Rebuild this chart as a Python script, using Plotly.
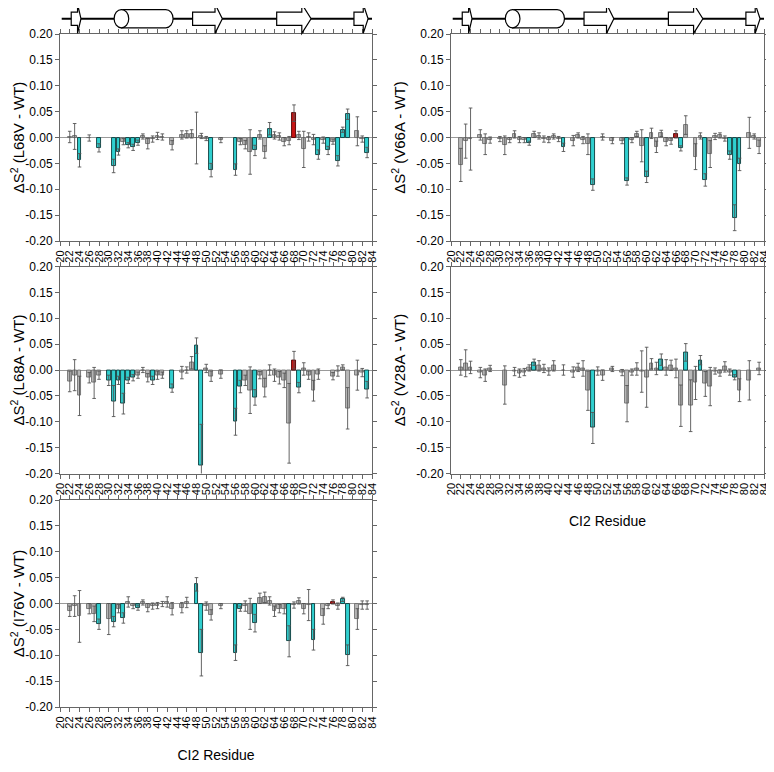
import plotly.graph_objects as go

# ---------------- data ----------------
res_L68V = [22,23,24,26,28,31,32,33,34,35,36,37,38,39,40,41,43,45,46,47,48,49,50,51,53,56,57,58,59,60,61,62,63,64,65,66,67,68,69,70,71,72,73,74,75,76,77,78,79,81,82,83]
ds2_L68V = [0.001,0.002,-0.044,-0.001,-0.020,-0.055,-0.028,-0.008,-0.015,-0.019,-0.010,0.002,-0.012,-0.003,0.003,0.001,-0.015,0.005,0.006,0.007,-0.001,0.003,-0.002,-0.063,-0.005,-0.062,-0.008,-0.014,-0.028,-0.025,0.005,-0.028,0.017,0.004,0.002,-0.008,-0.006,0.047,0.004,-0.023,0.001,-0.004,-0.033,-0.005,-0.025,-0.008,-0.045,0.015,0.045,0.012,-0.003,-0.029]
err_L68V = [0.011,0.025,0.013,0.006,0.008,0.013,0.006,0.006,0.005,0.006,0.005,0.005,0.010,0.006,0.007,0.006,0.009,0.008,0.007,0.008,0.050,0.005,0.004,0.013,0.005,0.011,0.006,0.008,0.043,0.010,0.008,0.012,0.012,0.007,0.007,0.008,0.008,0.016,0.008,0.035,0.008,0.010,0.009,0.006,0.008,0.005,0.010,0.005,0.010,0.028,0.006,0.010]
sig_L68V = [24,28,31,32,34,35,36,51,56,60,63,73,75,77,78,79,83]

res_V66A = [22,23,24,26,27,28,30,31,32,33,34,35,36,37,38,39,40,41,42,43,45,46,47,48,49,51,53,55,56,57,58,59,60,61,62,63,64,65,66,67,68,70,71,72,73,74,75,76,77,78,79,81,82,83]
ds2_V66A = [-0.053,-0.007,-0.003,0.005,-0.013,-0.005,-0.003,-0.015,-0.005,0.006,-0.004,-0.005,-0.011,0.006,0.003,-0.003,-0.004,0.002,-0.003,-0.019,-0.006,0.004,-0.005,-0.013,-0.091,0.001,-0.006,-0.006,-0.085,-0.005,0.007,-0.016,-0.076,0.008,-0.018,0.008,-0.008,-0.007,0.006,-0.021,0.024,-0.037,0.003,-0.082,-0.032,0.002,0.004,-0.002,-0.034,-0.155,-0.052,0.009,0.002,-0.018]
err_V66A = [0.032,0.033,0.060,0.010,0.020,0.006,0.005,0.018,0.005,0.007,0.006,0.005,0.004,0.006,0.006,0.006,0.006,0.005,0.005,0.008,0.010,0.005,0.007,0.020,0.011,0.006,0.006,0.006,0.007,0.005,0.005,0.031,0.011,0.010,0.011,0.006,0.008,0.006,0.007,0.005,0.018,0.025,0.006,0.012,0.026,0.006,0.005,0.005,0.008,0.025,0.012,0.030,0.005,0.013]
sig_V66A = [36,43,49,56,60,67,72,77,78,79]

res_L68A = [22,23,24,26,27,28,30,31,32,33,34,35,36,37,38,39,40,41,43,45,46,47,48,49,50,51,53,56,57,58,59,60,61,62,63,64,65,66,67,68,69,70,71,72,73,76,77,78,79,81,82,83]
ds2_L68A = [-0.022,-0.010,-0.050,-0.015,-0.025,-0.010,-0.020,-0.060,-0.020,-0.065,-0.020,-0.015,-0.010,0.000,-0.015,-0.020,-0.010,-0.010,-0.035,-0.005,0.000,0.014,0.047,-0.185,0.003,-0.012,-0.008,-0.100,-0.032,-0.020,-0.039,-0.053,-0.010,-0.034,0.000,-0.010,-0.015,-0.020,-0.103,0.019,-0.034,0.002,-0.010,-0.040,-0.008,-0.012,-0.002,0.005,-0.074,-0.010,-0.005,-0.038]
err_L68A = [0.020,0.030,0.038,0.010,0.030,0.008,0.010,0.030,0.008,0.020,0.006,0.006,0.006,0.005,0.008,0.008,0.008,0.006,0.008,0.012,0.006,0.012,0.015,0.080,0.008,0.010,0.008,0.026,0.012,0.010,0.045,0.015,0.007,0.018,0.010,0.012,0.012,0.014,0.077,0.017,0.010,0.012,0.008,0.020,0.010,0.007,0.010,0.005,0.040,0.029,0.008,0.016]
sig_L68A = [30,31,32,33,34,35,39,43,48,49,56,57,60,69,83]

res_V28A = [22,23,24,26,27,28,31,33,34,35,36,37,38,39,40,41,43,45,46,47,48,49,50,51,53,55,56,57,58,59,60,61,62,63,64,65,66,67,68,69,70,71,72,73,74,75,76,77,78,79,81,83]
ds2_V28A = [0.005,0.013,0.005,-0.005,-0.010,0.003,-0.029,-0.003,-0.006,-0.004,0.004,0.015,0.008,0.003,-0.003,0.008,0.000,-0.004,0.005,0.003,-0.040,-0.112,-0.002,-0.010,0.002,-0.005,-0.065,-0.004,0.002,-0.003,-0.014,0.012,0.003,0.020,0.005,0.009,0.003,-0.069,0.034,-0.069,-0.025,0.019,-0.027,-0.032,-0.002,-0.006,0.006,-0.004,-0.014,-0.039,-0.020,0.003]
err_V28A = [0.015,0.026,0.012,0.010,0.012,0.006,0.037,0.008,0.008,0.007,0.006,0.006,0.010,0.008,0.007,0.010,0.010,0.010,0.008,0.015,0.038,0.030,0.008,0.010,0.005,0.006,0.035,0.006,0.012,0.040,0.058,0.010,0.012,0.011,0.015,0.010,0.018,0.040,0.017,0.050,0.032,0.009,0.024,0.037,0.006,0.006,0.010,0.006,0.005,0.022,0.038,0.012]
sig_V28A = [37,49,63,68,71,78]

res_I76V = [22,23,24,26,27,28,30,31,32,33,34,35,36,37,38,39,40,41,42,43,45,46,48,49,50,51,53,56,57,58,59,60,61,62,63,64,65,66,67,68,69,70,71,72,74,75,76,77,78,79,81,82,83]
ds2_I76V = [-0.015,-0.005,-0.025,-0.010,-0.020,-0.040,-0.030,-0.035,-0.010,-0.028,0.003,-0.005,-0.008,0.002,-0.008,-0.005,-0.004,-0.001,0.003,-0.010,-0.008,0.002,0.037,-0.095,-0.005,-0.022,-0.005,-0.095,-0.010,-0.005,-0.020,-0.038,0.010,0.012,0.005,-0.015,-0.010,-0.010,-0.073,-0.003,0.005,-0.010,-0.003,-0.070,-0.025,-0.005,0.003,-0.005,0.008,-0.100,-0.030,-0.003,-0.003]
err_I76V = [0.010,0.020,0.050,0.010,0.015,0.010,0.030,0.010,0.008,0.010,0.010,0.005,0.005,0.005,0.008,0.006,0.006,0.005,0.010,0.012,0.010,0.010,0.013,0.045,0.008,0.010,0.005,0.015,0.005,0.010,0.030,0.017,0.010,0.010,0.008,0.010,0.008,0.010,0.030,0.006,0.006,0.010,0.030,0.020,0.015,0.005,0.004,0.006,0.004,0.020,0.020,0.008,0.008]
sig_I76V = [28,31,33,36,48,49,56,57,60,67,72,78,79]

mutants = ["L68V", "V66A", "L68A", "V28A", "I76V"]
# residue highlighted in red in each panel (None = not shown)
red_sites = [68, 66, 68, None, 76]

x_ticks = list(range(20, 85, 2))
x_ticklabels = [str(v) for v in x_ticks]
y_ticks = [0.20, 0.15, 0.10, 0.05, 0.00, -0.05, -0.10, -0.15, -0.20]
y_ticklabels = ["0.20", "0.15", "0.10", "0.05", "0.00", "-0.05", "-0.10", "-0.15", "-0.20"]

# secondary structure of CI2 (residue ranges)
strands = [(22.3, 23.6, 24.3), (47.2, 51.8, 53.3), (64.45, 69.6, 71.5), (80.3, 82.2, 83.2)]
helix = (31.1, 43.2)
ss_line = (20.35, 84.0)

# ---------------- styling ----------------
CYAN = "#30CFCF"
GRAY = "#B8B8B8"
RED = "#C81414"
FONT = "Liberation Sans, Arial, sans-serif"

series = [
    (res_L68V, ds2_L68V, err_L68V, sig_L68V),
    (res_V66A, ds2_V66A, err_V66A, sig_V66A),
    (res_L68A, ds2_L68A, err_L68A, sig_L68A),
    (res_V28A, ds2_V28A, err_V28A, sig_V28A),
    (res_I76V, ds2_I76V, err_I76V, sig_I76V),
]

fig = go.Figure()
axis_ids = ["", "2", "3", "4", "5"]
for i, (res, val, err, sig) in enumerate(series):
    fills, lines = [], []
    for r in res:
        if r == red_sites[i]:
            fills.append(RED); lines.append("#500000")
        elif r in sig:
            fills.append(CYAN); lines.append("#0B3B3B")
        else:
            fills.append(GRAY); lines.append("#6E6E6E")
    fig.add_trace(go.Bar(
        x=res, y=val,
        width=0.78,
        marker=dict(color=fills, line=dict(color=lines, width=0.9)),
        error_y=dict(type="data", array=err, visible=True, color="#555555", thickness=0.9, width=1.8),
        xaxis="x" + axis_ids[i], yaxis="y" + axis_ids[i],
        showlegend=False, hoverinfo="x+y",
    ))

# plot area geometry (page body has an 8px default margin)
OFF = 8
H, W = 772 - OFF, 774 - OFF
mt, mb, ml, mr = 34 - OFF, 65, 60 - OFF, 10
ph = H - mt - mb
pw = W - ml - mr

def ydom(top_px, bot_px):
    return [(772 - mb - bot_px) / ph, (772 - mb - top_px) / ph]

def xdom(l_px, r_px):
    return [(l_px - 60) / pw, (r_px - 60) / pw]

rows = [ydom(34, 241), ydom(266.5, 473.5), ydom(500, 707)]
cols = [xdom(60, 372), xdom(451, 764)]
layout_pos = [(0, 0), (0, 1), (1, 0), (1, 1), (2, 0)]

axcommon = dict(showline=True, linecolor="#666666", linewidth=1, mirror="ticks",
                ticks="outside", ticklen=4, tickcolor="#666666", showgrid=False)

layout = dict(
    width=W, height=H, margin=dict(l=ml, r=mr, t=mt, b=mb, autoexpand=False),
    plot_bgcolor="white", paper_bgcolor="white",
    font=dict(family=FONT, size=12, color="black"),
    bargap=0, showlegend=False,
)
for i, (r, c) in enumerate(layout_pos):
    sx = axis_ids[i]
    xa = dict(axcommon, domain=cols[c], range=[20, 84], tickvals=x_ticks, ticktext=x_ticklabels,
              tickangle=-90, tickfont=dict(size=11), zeroline=False,
              anchor="y" + sx)
    if i in (3, 4):
        xa["title"] = dict(text="CI2 Residue", font=dict(size=14), standoff=22)
    ya = dict(axcommon, domain=rows[r], range=[-0.2, 0.2], tickvals=y_ticks, ticktext=y_ticklabels,
              tickfont=dict(size=12), zeroline=True, zerolinecolor="#9A9A9A", zerolinewidth=1,
              anchor="x" + sx,
              title=dict(text="ΔS<sup>2</sup> (" + mutants[i] + " - WT)", font=dict(size=15), standoff=6))
    layout["xaxis" + sx] = xa
    layout["yaxis" + sx] = ya

fig.update_layout(**layout)

# secondary-structure diagram above top panels
def py(px):
    return (772 - mb - px) / ph

ymid = py(18.7)
rect_h = 0.0099
head_h = 0.0218
hel_h = 0.0136
shapes = []
for xr in ["x", "x2"]:
    shapes.append(dict(type="line", xref=xr, yref="paper", x0=ss_line[0], x1=ss_line[1],
                       y0=ymid, y1=ymid, line=dict(color="black", width=2)))
    for (s, hb, tip) in strands:
        path = (f"M {s},{ymid - rect_h} L {hb},{ymid - rect_h} L {hb},{ymid - head_h} "
                f"L {tip},{ymid} L {hb},{ymid + head_h} L {hb},{ymid + rect_h} L {s},{ymid + rect_h} Z")
        shapes.append(dict(type="path", xref=xr, yref="paper", path=path,
                           fillcolor="white", line=dict(color="black", width=1.2)))
    h0, h1 = helix
    rx = 1.5
    xl = h0 + rx
    xr_body = h1 - rx
    k = 0.552
    yt, yb = ymid + hel_h, ymid - hel_h
    path = (f"M {xl},{yt} L {xr_body},{yt} "
            f"C {xr_body + k*rx},{yt} {h1},{ymid + k*hel_h} {h1},{ymid} "
            f"C {h1},{ymid - k*hel_h} {xr_body + k*rx},{yb} {xr_body},{yb} "
            f"L {xl},{yb} Z")
    shapes.append(dict(type="path", xref=xr, yref="paper", path=path,
                       fillcolor="white", line=dict(color="black", width=1.2)))
    shapes.append(dict(type="circle", xref=xr, yref="paper", x0=h0, x1=h0 + 2*rx,
                       y0=yb, y1=yt, fillcolor="white", line=dict(color="black", width=1.2)))
fig.update_layout(shapes=shapes)

fig.write_html("out.html")
